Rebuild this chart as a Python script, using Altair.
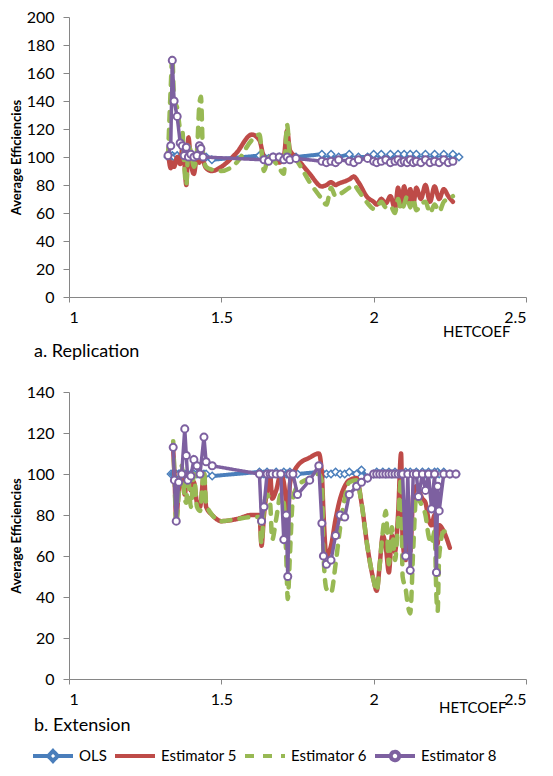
import altair as alt
import pandas as pd

SERIES = ["OLS", "Estimator 5", "Estimator 6", "Estimator 8"]
COLORS = ["#4A7EBB", "#BE4B48", "#98B954", "#7D60A0"]
DASHES = [[1, 0], [1, 0], [9, 9], [1, 0]]

# ---------------- a. Replication ----------------
rep_x = [1.325, 1.334, 1.339, 1.345, 1.355, 1.365, 1.372, 1.378, 1.385, 1.392,
         1.40, 1.41, 1.42, 1.428, 1.433, 1.44, 1.45, 1.469, 1.50, 1.55,
         1.60, 1.625, 1.64, 1.655, 1.67, 1.69, 1.705, 1.716, 1.725, 1.745,
         1.79, 1.83, 1.845, 1.86, 1.875, 1.885, 1.92, 1.935, 1.95, 1.98,
         2.00, 2.01, 2.025, 2.04, 2.055, 2.07, 2.08, 2.09, 2.10, 2.11,
         2.12, 2.13, 2.14, 2.155, 2.17, 2.185, 2.20, 2.215, 2.23, 2.245,
         2.26, 2.28]
rep_ols = [100, 100, 101, 100, 101, 100, 100, 100, 100, 100,
           100, 100, 100, 100, 100, 100, 100, 98, None, None,
           None, 101, 100, 99, 100, 100, 100, 101, 100, 100,
           None, 102, 98, 102, 98, 100, 102, 98, 100, 100,
           102, 98, 102, 98, 102, 98, 102, 98, 102, 98,
           102, 98, 102, 98, 102, 98, 102, 98, 102, 98,
           102, 100]
rep_e5 = [104, 92, 96, 93, 100, 95, 106, 98, 80, 114,
          96, 88, 100, 96, 104, 98, 92, 90, 93, 103,
          116, 112, 100, 98, 100, 96, 100, 119, 105, 100,
          88, 79, 80, 82, 80, 81, 84, 86, 82, 71,
          68, 66, 70, 67, 72, 63, 78, 65, 79, 68,
          77, 66, 78, 70, 80, 68, 79, 70, 77, 72,
          68, None]
rep_e6 = [100, 150, 172, 140, 135, 120, 119, 95, 80, 108,
          104, 93, 104, 138, 143, 102, 93, 91, 90, 96,
          112, 116, 90, 100, 98, 92, 88, 123, 102, 98,
          82, 70, 66, 78, 72, 73, 78, 80, 76, 67,
          63, 64, 68, 64, 65, 60, 70, 62, 66, 72,
          64, 70, 62, 66, 68, 60, 66, 61, 68, 70,
          72, None]
rep_e8 = [101, 108, 169, 140, 129, 110, 108, 101, 107, 100,
          102, 100, 101, 108, 106, 100, None, None, None, None,
          None, None, 98, 97, 100, 100, 98, 100, 98, 99,
          None, 97, 96, 97, 96, 98, 97, 96, 98, 99,
          97, 96, 97, 98, 96, 97, 98, 96, 97, 96,
          98, 96, 97, 96, 98, 96, 97, 96, 98, 96,
          97, None]

# ---------------- b. Extension ----------------
ext_x = [1.335, 1.342, 1.346, 1.352, 1.36, 1.37, 1.38, 1.385, 1.39, 1.40,
         1.41, 1.42, 1.43, 1.443, 1.45, 1.47, 1.50, 1.55, 1.60, 1.625,
         1.632, 1.64, 1.65, 1.66, 1.667, 1.68, 1.695, 1.705, 1.713, 1.718,
         1.725, 1.735, 1.75, 1.79, 1.82, 1.83, 1.835, 1.845, 1.86, 1.875,
         1.89, 1.905, 1.92, 1.944, 1.96, 1.98, 2.00, 2.01, 2.02, 2.03,
         2.04, 2.05, 2.06, 2.07, 2.08, 2.09, 2.095, 2.105, 2.112, 2.12,
         2.13, 2.14, 2.147, 2.16, 2.17, 2.18, 2.19, 2.20, 2.206, 2.21,
         2.215, 2.23, 2.25, 2.27]
ext_ols = [100, 100, 100, 100, 100, 101, 100, 100, 99, 100,
           100, 100, 100, 100, 100, 99, None, None, None, 101,
           100, 100, 101, 100, 100, 101, 100, 101, 100, 100,
           101, 100, 100, None, 101, 100, 100, 100, 100, 101,
           100, 100, 101, 100, 102, 98, 100, 101, 100, 101,
           100, 101, 100, 101, 100, 101, 100, 101, 100, 101,
           100, 101, 100, 101, 100, 101, 100, 101, 100, 101,
           100, 101, 100, 100]
ext_e5 = [None, 112, 100, 78, 92, 100, 90, 96, 100, 92,
          96, 86, 84, 100, 84, 80, 77, 78, 80, 80,
          65, 80, 92, 100, 88, 92, 100, 96, 85, 75,
          95, 100, 104, 108, 110, 100, 82, 60, 65, 78,
          88, 94, 97, 98, 86, 64, 48, 43, 56, 70,
          64, 52, 70, 62, 80, 110, 68, 58, 70, 62,
          90, 94, 92, 88, 86, 78, 75, 80, 70, 66,
          75, 72, 64, None]
ext_e6 = [None, 116, 100, 75, 90, 104, 88, 86, 100, 84,
          100, 84, 82, 102, 86, 80, 77, 78, 79, 79,
          66, 84, 90, 86, 68, 78, 90, 86, 60, 39,
          60, 88, 94, 98, 100, 96, 62, 44, 42, 56,
          74, 88, 96, 97, 86, 64, 48, 43, 56, 72,
          82, 56, 74, 58, 76, 98, 50, 44, 36, 32,
          64, 90, 88, 84, 80, 70, 66, 72, 40, 33,
          60, 72, 70, None]
ext_e8 = [None, 113, 97, 77, 96, 100, 122, 109, 97, 99,
          107, 104, 100, 118, 106, 104, None, None, None, 100,
          77, 84, 100, 100, 100, 100, 100, 68, 80, 50,
          100, 100, 90, 97, 104, 76, 60, 56, 58, 70,
          80, 79, 90, 94, 96, 98, 100, 100, 100, 100,
          100, 100, 100, 100, 100, 100, 100, 60, 100, 53,
          100, 100, 89, 100, 92, 100, 83, 100, 52, 94,
          82, 100, 100, 100]


def long_table(xs, cols):
    rows = []
    for name, vals in zip(SERIES, cols):
        for x, v in zip(xs, vals):
            if v is not None:
                rows.append({"x": x, "v": v, "series": name})
    return pd.DataFrame(rows)


rep_df = long_table(rep_x, [rep_ols, rep_e5, rep_e6, rep_e8])
ext_df = long_table(ext_x, [ext_ols, ext_e5, ext_e6, ext_e8])

sym_expr = (
    "datum.value === 'OLS' ? 'M-2,0H-0.48M0.48,0H2M-0.48,0L0,-0.5L0.48,0L0,0.5Z' : "
    "datum.value === 'Estimator 8' ? 'M-2,0H-0.42M0.42,0H2M-0.42,0A0.42,0.42,0,1,0,0.42,0A0.42,0.42,0,1,0,-0.42,0Z' : "
    "'M-2,0H2'"
)

legend = alt.Legend(
    orient="none", legendX=-28, legendY=727, direction="horizontal", title=None,
    symbolSize=400, symbolStrokeWidth=4, labelFontSize=15, labelFont="Lato",
    labelColor="#000000", columnPadding=0, labelOffset=14, gridAlign="none",
    symbolType=alt.ExprRef(expr=sym_expr), symbolFillColor="white",
)


def panel(df, ymax, height, title, title_offset, tx, tpad):
    x = alt.X("x:Q", scale=alt.Scale(domain=[1, 2.5], nice=False, zero=False),
              axis=alt.Axis(values=[1, 1.5, 2, 2.5], format=".1~f", title="HETCOEF",
                            titleFontSize=15, titleFontWeight="normal",
                            titleAlign="right", titleX=tx, titlePadding=tpad,
                            labelPadding=7, tickSize=5))
    y = alt.Y("v:Q", scale=alt.Scale(domain=[0, ymax], nice=False, zero=True),
              axis=alt.Axis(values=list(range(0, ymax + 1, 20)),
                            title="Average Efficiencies", titleFontSize=13,
                            titleFontWeight="bold", titlePadding=2.5,
                            labelPadding=9, tickSize=6))
    color = alt.Color("series:N", scale=alt.Scale(domain=SERIES, range=COLORS), legend=legend)
    dash = alt.StrokeDash("series:N", scale=alt.Scale(domain=SERIES, range=DASHES), legend=legend)
    base = alt.Chart(df)

    def sel(name):
        return base.transform_filter(alt.datum.series == name)

    ols_line = sel("OLS").mark_line(strokeWidth=4).encode(x=x, y=y, color=color, strokeDash=dash)
    ols_pts = sel("OLS").mark_point(shape="diamond", size=55, filled=False, fill="white",
                                    fillOpacity=1, stroke=COLORS[0], strokeWidth=1.5,
                                    opacity=1).encode(x=x, y=y)
    e5_line = sel("Estimator 5").mark_line(strokeWidth=4.5, interpolate="monotone",
                                           strokeCap="round").encode(x=x, y=y, color=color, strokeDash=dash)
    e6_line = sel("Estimator 6").mark_line(strokeWidth=4.5, interpolate="monotone",
                                           strokeCap="round").encode(x=x, y=y, color=color, strokeDash=dash)
    e8_line = sel("Estimator 8").mark_line(strokeWidth=3.5).encode(x=x, y=y, color=color, strokeDash=dash)
    e8_pts = sel("Estimator 8").mark_point(shape="circle", size=50, filled=False, fill="white",
                                           fillOpacity=1, stroke=COLORS[3], strokeWidth=2,
                                           opacity=1).encode(x=x, y=y)
    return alt.layer(ols_line, ols_pts, e5_line, e6_line, e8_line, e8_pts).properties(
        width=457, height=height,
        title=alt.TitleParams(title, orient="bottom", anchor="start", frame="group",
                              dx=-35, offset=title_offset, fontSize=18,
                              fontWeight="normal", font="Lato", color="#000000"),
    )


top = panel(rep_df, 200, 280, "a. Replication", 4, 441, -1)
bottom = panel(ext_df, 140, 287, "b. Extension", 1, 437, -6.5)

chart = alt.vconcat(top, bottom, spacing=23).properties(
    padding={"left": 10, "top": 9, "right": 0, "bottom": 0}
).configure(font="Lato").configure_view(stroke=None).configure_axis(
    grid=False, domainColor="#868686", tickColor="#868686",
    labelFont="Lato", labelFontSize=16, labelColor="#000000",
    titleFont="Lato", titleColor="#000000",
)

chart.save("out.html", embed_options={"renderer": "svg", "actions": False})
